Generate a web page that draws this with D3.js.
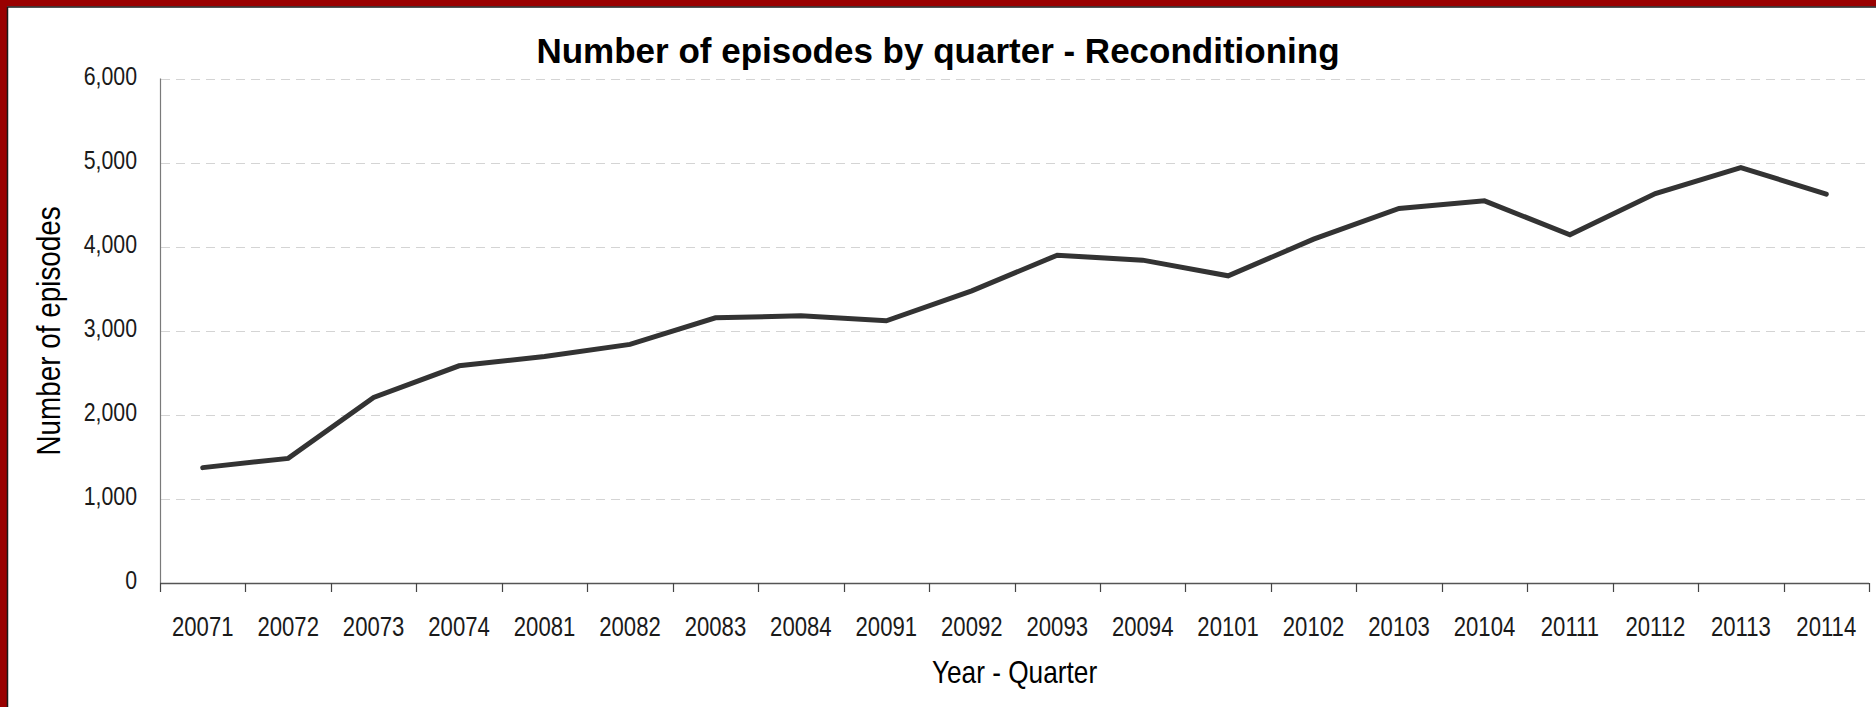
<!DOCTYPE html>
<html>
<head>
<meta charset="utf-8">
<script src="https://cdn.jsdelivr.net/npm/d3@7"></script>
<style>
  html, body { margin: 0; padding: 0; background: #ffffff; }
  svg { display: block; }
</style>
</head>
<body>
<svg id="chart" width="1876" height="707"></svg>
<script>
const categories = ["20071","20072","20073","20074","20081","20082","20083","20084","20091","20092","20093","20094","20101","20102","20103","20104","20111","20112","20113","20114"];
const episodes = [1375, 1485, 2210, 2585, 2695, 2840, 3156, 3180, 3120, 3476, 3900, 3841, 3655, 4090, 4455, 4546, 4142, 4633, 4942, 4625];
const yTicks = [0, 1000, 2000, 3000, 4000, 5000, 6000];
const titleText = "Number of episodes by quarter - Reconditioning";
const xTitle = "Year - Quarter";
const yTitle = "Number of episodes";

const W = 1876, H = 707;
const m = { left: 160, right: 1869, top: 78.5, bottom: 583.3 };
const svg = d3.select("#chart");
const sans = "'Liberation Sans', Arial, sans-serif";
const NARROW = 0.82;

svg.append("rect").attr("width", W).attr("height", H).attr("fill", "#ffffff");

const x = d3.scaleBand().domain(categories).range([m.left, m.right]).padding(0);
const y = d3.scaleLinear().domain([0, 6000]).range([m.bottom, m.top]);

// gridlines
svg.append("g").selectAll("line").data(yTicks.filter(d => d > 0)).join("line")
  .attr("x1", m.left + 1).attr("x2", m.right)
  .attr("y1", d => Math.round(y(d)) + 0.5).attr("y2", d => Math.round(y(d)) + 0.5)
  .attr("stroke", "#d4d4d4").attr("stroke-width", 1.2)
  .attr("stroke-dasharray", "9,6");

// y axis line
svg.append("line")
  .attr("x1", m.left + 0.5).attr("x2", m.left + 0.5)
  .attr("y1", y(6000)).attr("y2", y(0))
  .attr("stroke", "#7a7a7a").attr("stroke-width", 1.2);

// y tick labels (condensed)
svg.append("g").selectAll("text").data(yTicks).join("text")
  .attr("transform", d => `translate(137,${y(d) + 6}) scale(${NARROW},1)`)
  .attr("text-anchor", "end")
  .attr("font-family", sans).attr("font-size", 26)
  .attr("fill", "#1a1a1a")
  .text(d => d3.format(",")(d));

// x axis line
svg.append("line")
  .attr("x1", m.left).attr("x2", m.right)
  .attr("y1", Math.round(y(0)) + 0.5).attr("y2", Math.round(y(0)) + 0.5)
  .attr("stroke", "#555555").attr("stroke-width", 1.3);

// x ticks at category boundaries
const bounds = categories.map(c => x(c)).concat([x(categories[categories.length - 1]) + x.bandwidth()]);
svg.append("g").selectAll("line").data(bounds).join("line")
  .attr("x1", d => Math.round(d) + 0.5).attr("x2", d => Math.round(d) + 0.5)
  .attr("y1", Math.round(y(0))).attr("y2", Math.round(y(0)) + 9)
  .attr("stroke", "#444444").attr("stroke-width", 1.2);

// x tick labels (condensed)
svg.append("g").selectAll("text").data(categories).join("text")
  .attr("transform", d => `translate(${x(d) + x.bandwidth() / 2},636) scale(${NARROW},1)`)
  .attr("text-anchor", "middle")
  .attr("font-family", sans).attr("font-size", 27)
  .attr("fill", "#1a1a1a")
  .text(d => d);

// line
const line = d3.line()
  .x((d, i) => x(categories[i]) + x.bandwidth() / 2)
  .y(d => y(d));
svg.append("path")
  .datum(episodes)
  .attr("d", line)
  .attr("fill", "none")
  .attr("stroke", "#333333")
  .attr("stroke-width", 5)
  .attr("stroke-linejoin", "miter")
  .attr("stroke-linecap", "round");

// title
svg.append("text")
  .attr("x", W / 2).attr("y", 63)
  .attr("text-anchor", "middle")
  .attr("font-family", sans)
  .attr("font-weight", "bold").attr("font-size", 35)
  .attr("fill", "#000000")
  .text(titleText);

// x axis title
svg.append("text")
  .attr("transform", `translate(${(m.left + m.right) / 2},683) scale(${NARROW},1)`)
  .attr("text-anchor", "middle")
  .attr("font-family", sans).attr("font-size", 32)
  .attr("fill", "#000000")
  .text(xTitle);

// y axis title
svg.append("text")
  .attr("transform", `translate(59.5,${(m.top + m.bottom) / 2}) rotate(-90) scale(${NARROW},1)`)
  .attr("text-anchor", "middle")
  .attr("font-family", sans).attr("font-size", 34)
  .attr("fill", "#000000")
  .text(yTitle);

// frame (top and left borders)
svg.append("rect").attr("x", 0).attr("y", 0).attr("width", W).attr("height", 6.5).attr("fill", "#990000");
svg.append("rect").attr("x", 0).attr("y", 0).attr("width", 7).attr("height", H).attr("fill", "#990000");
svg.append("line").attr("x1", 7).attr("x2", W).attr("y1", 7).attr("y2", 7).attr("stroke", "#1a1a1a").attr("stroke-width", 1.5);
svg.append("line").attr("x1", 7.5).attr("x2", 7.5).attr("y1", 7).attr("y2", H).attr("stroke", "#1a1a1a").attr("stroke-width", 1.5);
</script>
</body>
</html>
